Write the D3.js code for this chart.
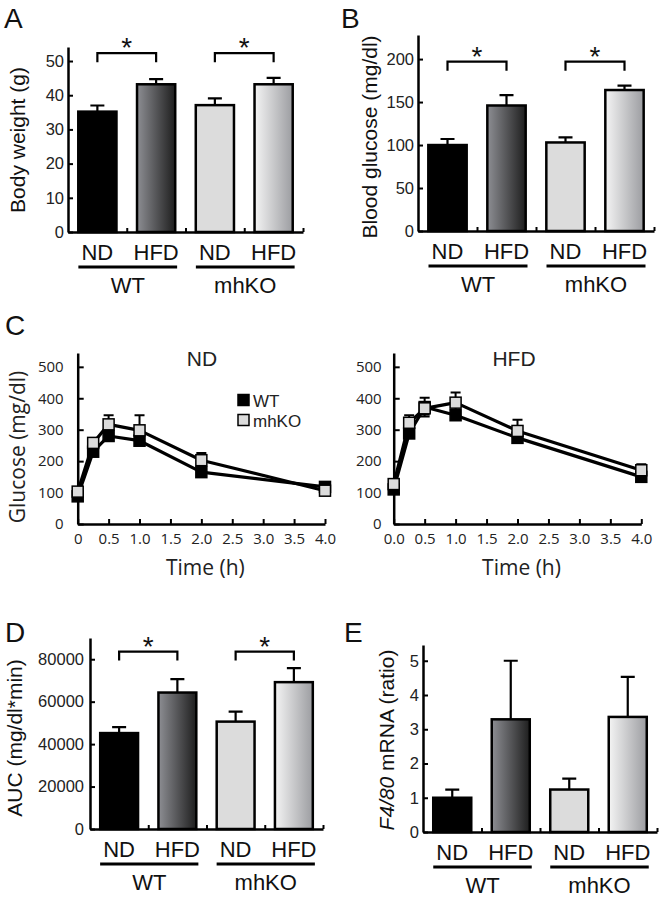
<!DOCTYPE html>
<html><head><meta charset="utf-8">
<script src="https://cdn.jsdelivr.net/npm/d3@7"></script>
<style>body{margin:0;background:#fff} svg{display:block}</style>
</head><body>
<svg id="chart" width="664" height="900"></svg>
<script>
// ---------- DATA ----------
const diets = ["ND", "HFD", "ND", "HFD"];
const genotypes = ["WT", "mhKO"];
// Panel A: body weight (g)
const weightMean = [35.2, 43.2, 37.1, 43.2];
const weightErr  = [1.8, 1.5, 2.0, 1.9];
const weightTicks = [0, 10, 20, 30, 40, 50];
// Panel B: blood glucose (mg/dl)
const glucoseMean = [100, 146, 103, 164];
const glucoseErr  = [7, 12, 6, 5];
const glucoseTicks = [0, 50, 100, 150, 200];
// Panel D: AUC (mg/dl*min)
const aucMean = [45200, 64300, 50600, 69200];
const aucErr  = [2800, 6300, 4700, 6600];
const aucTicks = [0, 20000, 40000, 60000, 80000];
// Panel E: F4/80 mRNA ratio
const f480Mean = [1.0, 3.29, 1.24, 3.36];
const f480Err  = [0.24, 1.71, 0.32, 1.17];
const f480Ticks = [0, 1, 2, 3, 4, 5];
// significance brackets (level in data units), pairs [ND index, HFD index]
const sigPairs = [[0, 1], [2, 3]];
const weightSig = 52.3, glucoseSig = 197, aucSig = 83600;
// Panel C: glucose tolerance test
const timeH = [0, 0.25, 0.5, 1, 2, 4];
const ndWT      = [88, 230, 280, 265, 165, 118];
const ndWTErr   = [8, 10, 14, 12, 10, 6];
const ndKO      = [103, 258, 317, 298, 203, 106];
const ndKOErr   = [8, 12, 29, 48, 23, 8];
const hfdWT     = [110, 288, 372, 346, 274, 150];
const hfdWTErr  = [10, 14, 30, 12, 10, 10];
const hfdKO     = [127, 322, 368, 386, 296, 171];
const hfdKOErr  = [10, 24, 20, 32, 36, 19];
const gttYTicks = [0, 100, 200, 300, 400, 500];
const gttXTicks = [0, 0.5, 1, 1.5, 2, 2.5, 3, 3.5, 4];
const ndXTickLabels  = ["0", "0.5", "1.0", "1.5", "2.0", "2.5", "3.0", "3.5", "4.0"];
const hfdXTickLabels = ["0.0", "0.5", "1.0", "1.5", "2.0", "2.5", "3.0", "3.5", "4.0"];

// ---------- DRAWING ----------
const svg = d3.select("#chart");
const SANS = "'Liberation Sans', Arial, Helvetica, sans-serif";
const HUM = "'Open Sans', 'Noto Sans', sans-serif";

const defs = svg.append("defs");
function grad(id, c0, c1) {
  const g = defs.append("linearGradient").attr("id", id)
    .attr("x1", "0%").attr("x2", "100%").attr("y1", "0%").attr("y2", "0%");
  g.append("stop").attr("offset", "0%").attr("stop-color", c0);
  g.append("stop").attr("offset", "100%").attr("stop-color", c1);
}
grad("gWT", "#8d8e93", "#1e1e1e");
grad("gKO", "#f4f4f4", "#9c9da1");
const barFills = ["#000", "url(#gWT)", "#dcdcdc", "url(#gKO)"];

function letter(t, x, y) {
  svg.append("text").attr("x", x).attr("y", y).text(t)
    .style("font-family", SANS).style("font-size", "28px").attr("fill", "#111");
}

function barPanel(o) {
  const g = svg.append("g");
  const x = d3.scaleBand().domain(d3.range(4)).range([o.x0, o.x1])
    .paddingInner(0.35).paddingOuter(0.175);
  const y = d3.scaleLinear().domain([0, o.dmax]).range([o.zero, o.top]);
  const cx = i => x(i) + x.bandwidth() / 2;

  // error bars
  g.selectAll(".eb").data(o.mean).join("path")
    .attr("d", (d, i) => `M${cx(i)},${y(d)}V${y(d + o.err[i])}M${cx(i) - 7},${y(d + o.err[i])}H${cx(i) + 7}`)
    .attr("stroke", "#000").attr("stroke-width", 2.2).attr("fill", "none");
  // bars
  g.selectAll(".bar").data(o.mean).join("rect")
    .attr("x", (d, i) => x(i)).attr("width", x.bandwidth())
    .attr("y", d => y(d)).attr("height", d => y(0) - y(d))
    .attr("fill", (d, i) => barFills[i]).attr("stroke", "#000").attr("stroke-width", 2.5);

  // y axis
  const ya = g.append("g").attr("transform", `translate(${o.x0},0)`)
    .call(d3.axisLeft(y).tickValues(o.ticks).tickSizeInner(-5).tickSizeOuter(0)
      .tickPadding(o.tickPad || 4).tickFormat(d3.format("d")));
  ya.select(".domain").attr("stroke-width", 2.5);
  ya.selectAll(".tick line").attr("stroke-width", 2);
  ya.selectAll("text").style("font-family", SANS).style("font-size", "16.5px").attr("fill", "#222");

  // x axis (ticks at band boundaries)
  const xl = d3.scaleLinear().domain([0, 4]).range([o.x0, o.x1]);
  const xa = g.append("g").attr("transform", `translate(0,${o.zero})`)
    .call(d3.axisBottom(xl).tickValues([1, 2, 3, 4]).tickSizeInner(-4).tickSizeOuter(0).tickFormat(""));
  xa.select(".domain").attr("stroke-width", 2.5);
  xa.selectAll(".tick line").attr("stroke-width", 2);

  // category labels
  g.selectAll(".cat").data(diets).join("text")
    .attr("x", (d, i) => cx(i)).attr("y", o.zero + 28).attr("text-anchor", "middle").text(d => d)
    .style("font-family", SANS).style("font-size", "22px").attr("fill", "#111");
  genotypes.forEach((gt, k) => {
    const a = cx(2 * k) - 19, b = cx(2 * k + 1) + 21;
    g.append("line").attr("x1", a).attr("x2", b).attr("y1", o.zero + 35).attr("y2", o.zero + 35)
      .attr("stroke", "#000").attr("stroke-width", 3);
    g.append("text").attr("x", (a + b) / 2).attr("y", o.zero + 61).attr("text-anchor", "middle").text(gt)
      .style("font-family", SANS).style("font-size", "22px").attr("fill", "#111");
  });

  // significance
  if (o.sig !== undefined) {
    sigPairs.forEach(([i, j]) => {
      const yt = y(o.sig);
      g.append("path").attr("d", `M${cx(i)},${yt + 9}V${yt}H${cx(j)}V${yt + 9}`)
        .attr("fill", "none").attr("stroke", "#000").attr("stroke-width", 2.2);
      g.append("text").attr("x", (cx(i) + cx(j)) / 2).attr("y", yt + 4).attr("text-anchor", "middle").text("*")
        .style("font-family", SANS).style("font-size", "28px").attr("fill", "#111");
    });
  }

  // y label
  const yl = g.append("text").attr("transform", `translate(${o.labX},${o.labY}) rotate(-90)`)
    .attr("text-anchor", "middle")
    .style("font-family", SANS).style("font-size", "21px").attr("fill", "#111");
  if (o.labelParts) {
    o.labelParts.forEach(p => yl.append("tspan").text(p[0]).style("font-style", p[1] ? "italic" : "normal"));
  } else yl.text(o.label);
}

letter("A", 4, 28);
barPanel({x0: 68, x1: 303, zero: 232, top: 47, dmax: 54.1, mean: weightMean, err: weightErr,
  ticks: weightTicks, sig: weightSig, label: "Body weight (g)", labX: 25, labY: 140});
letter("B", 341, 28);
barPanel({x0: 418, x1: 654, zero: 231, top: 35, dmax: 228, mean: glucoseMean, err: glucoseErr,
  ticks: glucoseTicks, sig: glucoseSig, label: "Blood glucose (mg/dl)", labX: 377, labY: 137});
letter("D", 5, 642);
barPanel({x0: 90, x1: 323, zero: 829, top: 638, dmax: 90000, mean: aucMean, err: aucErr,
  ticks: aucTicks, sig: aucSig, label: "AUC (mg/dl*min)", labX: 22, labY: 738, tickPad: 6});
letter("E", 344, 642);
barPanel({x0: 423, x1: 657, zero: 832, top: 645, dmax: 5.46, mean: f480Mean, err: f480Err,
  ticks: f480Ticks, labelParts: [["F4/80", true], [" mRNA (ratio)", false]], labX: 394, labY: 740});

// Panel C
letter("C", 5, 335);
function gttPanel(o) {
  const g = svg.append("g");
  const x = d3.scaleLinear().domain([0, 4]).range([o.x0, o.x1]);
  const y = d3.scaleLinear().domain([0, 544]).range([524, 353]);
  const ya = g.append("g").attr("transform", `translate(${o.x0},0)`)
    .call(d3.axisLeft(y).tickValues(gttYTicks).tickSizeInner(-6).tickSizeOuter(0).tickPadding(o.yPad));
  ya.select(".domain").attr("stroke-width", 2.5);
  ya.selectAll(".tick line").attr("stroke-width", 2);
  ya.selectAll("text").style("font-family", HUM).style("font-size", "15px").attr("fill", "#222");
  const xa = g.append("g").attr("transform", "translate(0,524)")
    .call(d3.axisBottom(x).tickValues(gttXTicks).tickSizeInner(-5).tickSizeOuter(0).tickPadding(9)
      .tickFormat((d, i) => o.xLabels[i]));
  xa.select(".domain").attr("stroke-width", 2.5);
  xa.selectAll(".tick line").attr("stroke-width", 2);
  xa.selectAll("text").style("font-family", HUM).style("font-size", "15px").attr("fill", "#222");

  const series = [
    {v: o.wt, e: o.wtErr, fill: "#000"},
    {v: o.ko, e: o.koErr, fill: "#dcdcdc"}
  ];
  // error bars
  series.forEach(s => {
    g.selectAll(null).data(s.v).join("path")
      .attr("d", (d, i) => {
        const xx = x(timeH[i]), t = y(d + s.e[i]), b = y(d - s.e[i]);
        return `M${xx},${b}V${t}M${xx - 5},${t}H${xx + 5}M${xx - 5},${b}H${xx + 5}`;
      })
      .attr("stroke", "#000").attr("stroke-width", 2).attr("fill", "none");
  });
  const line = d3.line().x((d, i) => x(timeH[i])).y(d => y(d));
  series.forEach(s => {
    g.append("path").datum(s.v).attr("d", line).attr("fill", "none")
      .attr("stroke", "#000").attr("stroke-width", 3.2).attr("stroke-linejoin", "round");
  });
  series.forEach(s => {
    g.selectAll(null).data(s.v).join("rect")
      .attr("x", (d, i) => x(timeH[i]) - 5.5).attr("y", d => y(d) - 5.5)
      .attr("width", 11).attr("height", 11)
      .attr("fill", s.fill).attr("stroke", "#000").attr("stroke-width", 1.5);
  });
  g.append("text").attr("x", o.titleX).attr("y", 366).attr("text-anchor", "middle").text(o.title)
    .style("font-family", SANS).style("font-size", "21px").attr("fill", "#222");
  g.append("text").attr("x", (o.x0 + o.x1) / 2 + 4).attr("y", 575).attr("text-anchor", "middle").text("Time (h)")
    .style("font-family", HUM).style("font-size", "21px").attr("fill", "#222");
}
gttPanel({x0: 77.7, x1: 325, wt: ndWT, wtErr: ndWTErr, ko: ndKO, koErr: ndKOErr,
  xLabels: ndXTickLabels, title: "ND", titleX: 202, yPad: 14});
gttPanel({x0: 393.7, x1: 641.3, wt: hfdWT, wtErr: hfdWTErr, ko: hfdKO, koErr: hfdKOErr,
  xLabels: hfdXTickLabels, title: "HFD", titleX: 514, yPad: 12});

// C y-label
svg.append("text").attr("transform", "translate(25,447) rotate(-90)").attr("text-anchor", "middle")
  .text("Glucose (mg/dl)").style("font-family", HUM).style("font-size", "21px").attr("fill", "#222");
// legend
const legend = svg.append("g");
[["WT", "#000", 400], ["mhKO", "#dcdcdc", 420]].forEach(([t, c, yy]) => {
  legend.append("rect").attr("x", 238).attr("y", yy - 5.5).attr("width", 11).attr("height", 11)
    .attr("fill", c).attr("stroke", "#000").attr("stroke-width", 1.5);
  legend.append("text").attr("x", 253).attr("y", yy + 6.5).text(t)
    .style("font-family", SANS).style("font-size", "17px").attr("fill", "#222");
});
</script>
</body></html>
